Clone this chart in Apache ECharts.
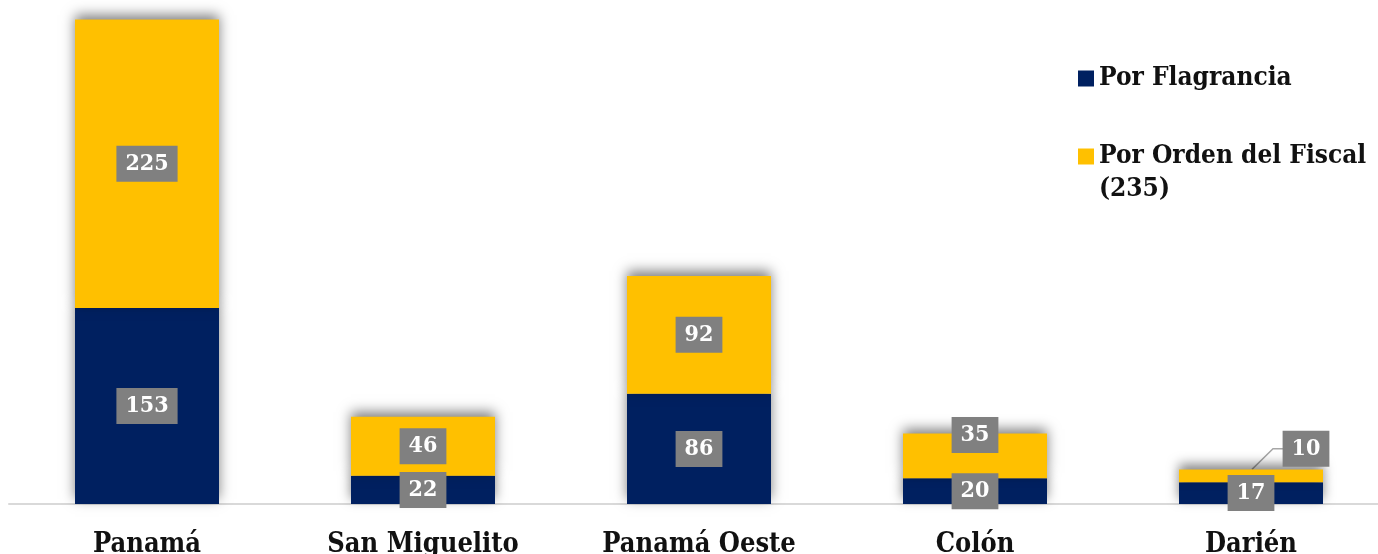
<!DOCTYPE html>
<html>
<head>
<meta charset="utf-8">
<script src="https://cdn.jsdelivr.net/npm/echarts@6/dist/echarts.min.js"></script>
<style>
  html, body { margin: 0; padding: 0; background: #fff; }
  #chart { width: 1378px; height: 554px; }
</style>
</head>
<body>
<div id="chart"></div>
<script>
// datos
const categorias = ['Panamá', 'San Miguelito', 'Panamá Oeste', 'Colón', 'Darién'];
const porFlagrancia = [153, 22, 86, 20, 17];
const porOrdenFiscal = [225, 46, 92, 35, 10];
const nombres = ['Por Flagrancia', 'Por Orden del Fiscal (235)'];

const fuente = '"DejaVu Serif Condensed", "DejaVu Serif", serif';
const etiqueta = {
  show: true,
  position: 'inside',
  color: '#fff',
  fontFamily: fuente,
  fontWeight: 'bold',
  fontSize: 23,
  lineHeight: 28,
  backgroundColor: '#808080',
  padding: [4, 9, 4, 9]
};
const sombra = {
  shadowBlur: 12,
  shadowColor: 'rgba(0,0,0,0.5)',
  shadowOffsetY: -5
};
// desplazamiento de la etiqueta de Darién
const despDarien = { dx: 55, dy: -27 };

const myChart = echarts.init(document.getElementById('chart'));
const option = {
  animation: false,
  grid: { left: 9, right: -11, top: 17, bottom: 50, outerBoundsMode: 'none' },
  legend: {
    orient: 'vertical',
    left: 1073,
    top: 57,
    itemGap: 12,
    itemWidth: 16,
    itemHeight: 16,
    icon: 'rect',
    formatter: function (name) {
      // la segunda entrada va en dos líneas, con el cuadro alineado a la primera
      if (name.indexOf(' (') > 0) return ' \n' + name.replace(' (', '\n(');
      return name;
    },
    textStyle: {
      fontFamily: fuente,
      fontWeight: 'bold',
      fontSize: 26,
      lineHeight: 33,
      color: '#111'
    }
  },
  xAxis: {
    type: 'category',
    data: categorias,
    axisTick: { show: false },
    axisLine: { lineStyle: { color: '#d9d9d9', width: 2 } },
    axisLabel: {
      margin: 27,
      fontFamily: fuente,
      fontWeight: 'bold',
      fontSize: 27,
      color: '#111'
    }
  },
  yAxis: {
    type: 'value',
    min: 0,
    max: 380,
    show: false,
    splitLine: { show: false }
  },
  series: [
    {
      name: nombres[0],
      type: 'bar',
      stack: 'total',
      barWidth: 144,
      itemStyle: Object.assign({ color: '#002060' }, sombra),
      label: etiqueta,
      data: porFlagrancia
    },
    {
      name: nombres[1],
      type: 'bar',
      stack: 'total',
      barWidth: 144,
      itemStyle: Object.assign({ color: '#ffc000' }, sombra),
      label: etiqueta,
      labelLayout: function (params) {
        if (params.dataIndex === 3) return { dy: -21 };
        if (params.dataIndex === 4) return despDarien;
        return {};
      },
      data: porOrdenFiscal
    }
  ]
};
myChart.setOption(option);

// línea guía de la etiqueta desplazada (Darién), calculada con las escalas
const i = 4;
const tope = myChart.convertToPixel({ gridIndex: 0 }, [i, porFlagrancia[i] + porOrdenFiscal[i]]);
const medio = myChart.convertToPixel({ gridIndex: 0 }, [i, porFlagrancia[i] + porOrdenFiscal[i] / 2]);
const yEtiq = medio[1] + despDarien.dy;
myChart.setOption({
  graphic: [{
    type: 'polyline',
    z: 1,
    shape: {
      points: [
        [tope[0] + 1, tope[1]],
        [tope[0] + 22, yEtiq],
        [tope[0] + despDarien.dx - 20, yEtiq]
      ]
    },
    style: { stroke: '#a6a6a6', lineWidth: 1.5, fill: null }
  }]
});

window.addEventListener('resize', () => {
  if (myChart) {
    myChart.resize();
  }
});
</script>
</body>
</html>
